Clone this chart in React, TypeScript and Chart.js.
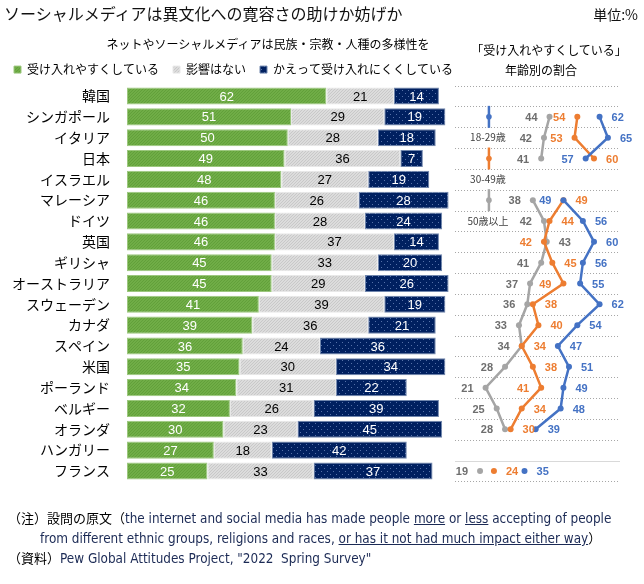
import React, { useEffect, useRef } from 'react';
import { Chart, registerables } from 'chart.js';

Chart.register(...registerables);

const countries = ['韓国', 'シンガポール', 'イタリア', '日本', 'イスラエル', 'マレーシア', 'ドイツ', '英国', 'ギリシャ', 'オーストラリア', 'スウェーデン', 'カナダ', 'スペイン', '米国', 'ポーランド', 'ベルギー', 'オランダ', 'ハンガリー', 'フランス'];
const moreAccepting = [62, 51, 50, 49, 48, 46, 46, 46, 45, 45, 41, 39, 36, 35, 34, 32, 30, 27, 25];
const noImpact = [21, 29, 28, 36, 27, 26, 28, 37, 33, 29, 39, 36, 24, 30, 31, 26, 23, 18, 33];
const lessAccepting = [14, 19, 18, 7, 19, 28, 24, 14, 20, 26, 19, 21, 36, 34, 22, 39, 45, 42, 37];
const age18to29 = [null, 62, 65, 57, null, 49, 56, 60, 56, 55, 62, 54, 47, 51, 49, 48, 39, null, 35];
const age30to49 = [null, 54, 53, 60, null, 49, 44, 42, 45, 49, 38, 40, 34, 38, 41, 34, 30, null, 24];
const age50plus = [null, 44, 42, 41, null, 38, 42, 43, 41, 37, 36, 33, 34, 28, 21, 25, 28, null, 19];
const seriesNames = ['受け入れやすくしている', '影響はない', 'かえって受け入れにくくしている'];
const ageNames = ['18-29歳', '30-49歳', '50歳以上'];

// label placement (L = left of point, R = right of point)
const side18 = ['', 'R', 'R', 'L', '', 'L', 'R', 'R', 'R', 'R', 'R', 'R', 'R', 'R', 'R', 'R', 'R', '', 'R'];
const side30 = ['', 'L', 'L', 'R', '', 'R', 'R', 'L', 'R', 'L', 'R', 'R', 'R', 'R', 'L', 'R', 'R', '', 'R'];
const side50 = ['', 'L', 'L', 'L', '', 'L', 'L', 'R', 'L', 'L', 'L', 'L', 'L', 'L', 'L', 'L', 'L', '', 'L'];

const JP = '"Noto Sans CJK JP", "Noto Sans", sans-serif';
const NUM = '"Liberation Sans", Arial, sans-serif';
const EN = '"Liberation Sans Narrow", "DejaVu Sans Condensed", "Liberation Sans", sans-serif';

const BLUE = '#4472C4';
const ORANGE = '#ED7D31';
const GRAY = '#A5A5A5';

function makePattern(base: string, dot: string, step: number, dots: number[][]) {
  const c = document.createElement('canvas');
  c.width = step;
  c.height = step;
  const g = c.getContext('2d')!;
  g.fillStyle = base;
  g.fillRect(0, 0, step, step);
  g.fillStyle = dot;
  dots.forEach(([x, y]) => g.fillRect(x, y, 1, 1));
  return g.createPattern(c, 'repeat') as CanvasPattern;
}

const valueLabels = {
  id: 'valueLabels',
  afterDatasetsDraw(chart: any) {
    const ctx = chart.ctx;
    ctx.save();
    ctx.textAlign = 'center';
    ctx.textBaseline = 'middle';
    ctx.font = `13px ${NUM}`;
    [0, 1, 2].forEach((di) => {
      const meta = chart.getDatasetMeta(di);
      meta.data.forEach((el: any, i: number) => {
        const v = chart.data.datasets[di].data[i];
        const p = el.getProps(['x', 'y', 'base'], true);
        ctx.fillStyle = di === 1 ? '#000' : '#fff';
        ctx.fillText(String(v), (p.x + p.base) / 2, p.y + 1);
      });
    });
    const sides = [side18, side30, side50];
    const colors = [BLUE, ORANGE, '#6E6E6E'];
    ctx.font = `bold 11px ${NUM}`;
    [3, 4, 5].forEach((di, k) => {
      const meta = chart.getDatasetMeta(di);
      meta.data.forEach((el: any, i: number) => {
        const v = chart.data.datasets[di].data[i];
        if (v === null || v === undefined) return;
        const s = sides[k][i];
        ctx.fillStyle = colors[k];
        ctx.textAlign = s === 'L' ? 'right' : 'left';
        ctx.fillText(String(v), el.x + (s === 'L' ? -12 : 12), el.y + 1);
      });
    });
    ctx.restore();
  },
};

const rightPanel = {
  id: 'rightPanel',
  beforeDatasetsDraw(chart: any) {
    const ctx = chart.ctx;
    const y = chart.scales.y;
    const x2 = chart.scales.x2;
    const area = chart.chartArea;
    const n = chart.data.labels.length;
    const step = (area.bottom - area.top) / n;
    const left = x2.getPixelForValue(10);
    ctx.save();
    for (let i = 0; i <= n; i++) {
      const yy = Math.round(area.top + i * step) + 0.5;
      ctx.beginPath();
      if (i === n - 1) {
        ctx.setLineDash([]);
        ctx.strokeStyle = '#D9D9D9';
      } else {
        ctx.setLineDash([1, 2]);
        ctx.strokeStyle = '#A6A6A6';
      }
      ctx.lineWidth = 1;
      ctx.moveTo(left, yy);
      ctx.lineTo(area.right, yy);
      ctx.stroke();
    }
    ctx.setLineDash([]);
    // age legend
    const lx = x2.getPixelForValue(22.2);
    const legendRows = [1, 3, 5];
    const legendColors = [BLUE, ORANGE, GRAY];
    legendRows.forEach((r, k) => {
      const cy = y.getPixelForValue(r);
      ctx.strokeStyle = legendColors[k];
      ctx.fillStyle = legendColors[k];
      ctx.lineWidth = 2.5;
      ctx.beginPath();
      ctx.moveTo(lx, cy - 11);
      ctx.lineTo(lx, cy + 11);
      ctx.stroke();
      ctx.beginPath();
      ctx.arc(lx, cy, 2.8, 0, Math.PI * 2);
      ctx.fill();
      const ty = y.getPixelForValue(r + 1);
      ctx.fillStyle = '#404040';
      ctx.font = `10px ${JP}`;
      ctx.textAlign = 'center';
      ctx.textBaseline = 'middle';
      ctx.fillText(ageNames[k], lx - 1, ty);
    });
    ctx.restore();
  },
};

export default function App() {
  const ref = useRef<HTMLCanvasElement>(null);

  useEffect(() => {
    const canvas = ref.current!;
    const green = makePattern('#70AD47', '#62A03A', 3, [[0, 0], [2, 1], [1, 2]]);
    const light = makePattern('#DCDCDC', '#C8C8C8', 3, [[0, 0], [2, 1], [1, 2]]);
    const navy = makePattern('#002060', '#5571A8', 6, [[0, 0], [3, 3]]);
    const lineDs = (label: string, data: (number | null)[], color: string) => ({
      type: 'line' as const,
      label,
      data,
      xAxisID: 'x2',
      yAxisID: 'y',
      borderColor: color,
      backgroundColor: color,
      borderWidth: 2.5,
      pointRadius: 3,
      pointHoverRadius: 3,
      pointBorderWidth: 0,
      spanGaps: false,
      fill: false,
      tension: 0,
    });
    const chart = new Chart(canvas, {
      type: 'bar',
      data: {
        labels: countries,
        datasets: [
          { label: seriesNames[0], data: moreAccepting, backgroundColor: green, borderColor: '#9CC77E', borderWidth: 1, borderSkipped: false, xAxisID: 'x', barPercentage: 0.82, categoryPercentage: 1 },
          { label: seriesNames[1], data: noImpact, backgroundColor: light, borderColor: '#E8E8E8', borderWidth: 1, borderSkipped: false, xAxisID: 'x', barPercentage: 0.82, categoryPercentage: 1 },
          { label: seriesNames[2], data: lessAccepting, backgroundColor: navy, borderColor: '#7086AD', borderWidth: 1, borderSkipped: false, xAxisID: 'x', barPercentage: 0.82, categoryPercentage: 1 },
          lineDs(ageNames[0], age18to29, BLUE),
          lineDs(ageNames[1], age30to49, ORANGE),
          lineDs(ageNames[2], age50plus, GRAY),
        ] as any,
      },
      options: {
        indexAxis: 'y',
        animation: false,
        responsive: true,
        maintainAspectRatio: false,
        layout: { padding: { top: 49.6, right: 24, bottom: 102.6, left: 0 } },
        scales: {
          x: { type: 'linear', stacked: true, min: 0, max: 153.3, display: false },
          x2: { type: 'linear', min: -108, max: 69.35, display: false },
          y: {
            stacked: true,
            grid: { display: false },
            border: { display: false },
            afterFit: (s: any) => { s.width = 127; },
            ticks: { padding: 9, color: '#000', font: { family: JP, size: 14 } },
          },
        },
        plugins: {
          legend: {
            position: 'top',
            align: 'start',
            labels: {
              boxWidth: 7,
              boxHeight: 7,
              padding: 14,
              color: '#000',
              font: { family: JP, size: 12 },
              filter: (item: any) => item.datasetIndex < 3,
            },
          },
          tooltip: { enabled: false },
        },
      } as any,
      plugins: [rightPanel, valueLabels],
    });
    return () => chart.destroy();
  }, []);

  const en: React.CSSProperties = { fontFamily: EN, fontSize: 13.4, color: '#1B2A55' };
  const jp: React.CSSProperties = { fontFamily: JP, fontSize: 13, color: '#000' };

  return (
    <div style={{ position: 'absolute', left: 0, top: 0, width: 644, height: 584, background: '#fff', overflow: 'hidden', fontFamily: JP }}>
      <div style={{ position: 'absolute', left: 0, top: 0, width: 644, height: 584 }}>
        <canvas ref={ref} />
      </div>
      <div style={{ position: 'absolute', left: 4, top: 3, fontSize: 16, lineHeight: '20px', color: '#111', whiteSpace: 'nowrap' }}>
        ソーシャルメディアは異文化への寛容さの助けか妨げか
      </div>
      <div style={{ position: 'absolute', right: 6, top: 4, fontSize: 14, lineHeight: '20px', color: '#111' }}>単位:%</div>
      <div style={{ position: 'absolute', left: 68, width: 400, top: 35, textAlign: 'center', fontSize: 12, lineHeight: '18px', color: '#000', whiteSpace: 'nowrap' }}>
        ネットやソーシャルメディアは民族・宗教・人種の多様性を
      </div>
      <div style={{ position: 'absolute', left: 449, width: 200, top: 41, textAlign: 'center', fontSize: 12, lineHeight: '18px', color: '#000', whiteSpace: 'nowrap' }}>
        「受け入れやすくしている」
      </div>
      <div style={{ position: 'absolute', left: 441, width: 200, top: 61, textAlign: 'center', fontSize: 12, lineHeight: '18px', color: '#000', whiteSpace: 'nowrap' }}>
        年齢別の割合
      </div>
      <div style={{ position: 'absolute', left: 8, top: 506, lineHeight: '20px', whiteSpace: 'pre' }}>
        <div style={{ height: 20 }}>
          <span style={jp}>（注）設問の原文（</span>
          <span style={en}>the internet and social media has made people <u>more</u> or <u>less</u> accepting of people</span>
        </div>
        <div style={{ height: 20, paddingLeft: 32 }}>
          <span style={en}>from different ethnic groups, religions and races, <u>or has it not had much impact either way</u></span>
          <span style={jp}>）</span>
        </div>
        <div style={{ height: 20 }}>
          <span style={jp}>（資料）</span>
          <span style={en}>Pew Global Attitudes Project, "2022  Spring Survey"</span>
        </div>
      </div>
    </div>
  );
}
